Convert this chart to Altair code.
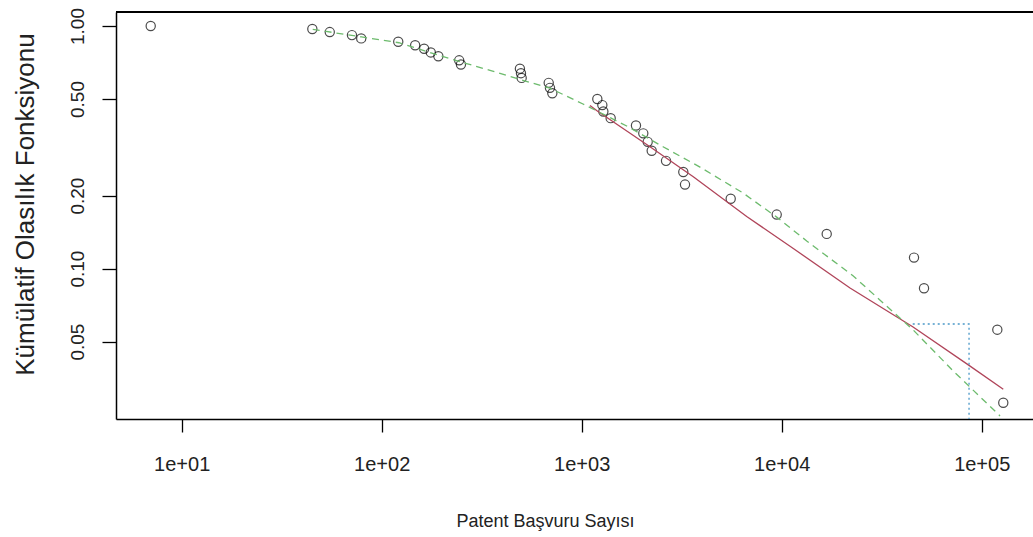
import altair as alt
import pandas as pd

# Empirical complementary CDF of patent application counts
patent_counts = [7, 45, 55, 71, 79, 121, 147, 163, 176, 192, 244, 249,
                 491, 497, 501, 684, 694, 713, 1197, 1268, 1283, 1396,
                 1868, 2032, 2138, 2239, 2640, 3221, 3285, 5559, 9441,
                 16790, 45870, 51470, 119700, 128200]
ccdf = [1.000, 0.972, 0.944, 0.917, 0.889, 0.861, 0.833, 0.806, 0.778,
        0.750, 0.722, 0.694, 0.667, 0.639, 0.611, 0.583, 0.556, 0.528,
        0.500, 0.472, 0.444, 0.417, 0.389, 0.361, 0.333, 0.306, 0.278,
        0.250, 0.222, 0.194, 0.167, 0.139, 0.111, 0.083, 0.056, 0.028]

# Power-law fit (solid red)
pl_x = [1100, 1197, 2195, 3614, 6683, 11430, 21960, 45190, 85700, 128200]
pl_y = [0.470, 0.446, 0.318, 0.239, 0.164, 0.121, 0.0832, 0.0576, 0.0401, 0.0318]

# Log-normal fit (dashed green)
ln_x = [45.2, 79.4, 122, 191, 246, 348, 491, 694, 1015, 1679, 2550, 3904,
        6405, 9441, 13340, 22800, 45500, 72100, 123500]
ln_y = [0.969, 0.901, 0.853, 0.759, 0.713, 0.656, 0.602, 0.554, 0.477,
        0.387, 0.318, 0.262, 0.205, 0.163, 0.130, 0.0932, 0.0558, 0.0378,
        0.0247]

# Dotted marker of the crossing region
box_x = [45190, 86430, 86430]
box_y = [0.0591, 0.0591, 0.02399]

x_ticks = [10, 100, 1000, 10000, 100000]
x_tick_labels = ["1e+01", "1e+02", "1e+03", "1e+04", "1e+05"]
y_ticks = [0.05, 0.10, 0.20, 0.50, 1.00]

X_DOMAIN = [4.694, 180500]
Y_DOMAIN = [0.02399, 1.142]
W, H = 917, 407
FONT = "Liberation Sans"

label_expr = " : ".join(
    f"datum.value == {v} ? '{t}'" for v, t in zip(x_ticks, x_tick_labels)
) + " : ''"

xscale = alt.Scale(type="log", domain=X_DOMAIN, nice=False)
yscale = alt.Scale(type="log", domain=Y_DOMAIN, nice=False)

x_axis = alt.Axis(values=x_ticks, labelExpr=label_expr, grid=False,
                  title="Patent Başvuru Sayısı", tickSize=13, tickColor="#000",
                  tickWidth=1.3, domainColor="#000", domainWidth=1.5,
                  labelFontSize=20, labelColor="#222", labelFont=FONT,
                  labelPadding=22, labelFlush=False, labelBaseline="top",
                  titleFontSize=18, titleFont=FONT, titleColor="#222",
                  titleFontWeight="normal", titleX=429, titleY=102,
                  titleAlign="center", titleBaseline="middle")
y_axis = alt.Axis(values=y_ticks, format=".2f", grid=False,
                  title="Kümülatif Olasılık Fonksiyonu", tickSize=14,
                  tickColor="#000", tickWidth=1.3, domainColor="#000",
                  domainWidth=1.5, labelFontSize=19, labelColor="#222",
                  labelFont=FONT, labelAngle=270, labelAlign="center",
                  labelBaseline="bottom", labelPadding=15, labelFlush=False,
                  titleFontSize=26, titleFont=FONT, titleColor="#222",
                  titleFontWeight="normal", titleAngle=270, titleX=-91,
                  titleY=192, titleAlign="center", titleBaseline="middle")

pts_df = pd.DataFrame({"x": patent_counts, "y": ccdf})
pl_df = pd.DataFrame({"x": pl_x, "y": pl_y, "o": list(range(len(pl_x)))})
ln_df = pd.DataFrame({"x": ln_x, "y": ln_y, "o": list(range(len(ln_x)))})
box_df = pd.DataFrame({"x": box_x, "y": box_y, "o": list(range(len(box_x)))})

points = alt.Chart(pts_df).mark_point(
    shape="circle", filled=False, color="#000", size=85, strokeWidth=1.2
).encode(
    x=alt.X("x:Q", scale=xscale, axis=x_axis),
    y=alt.Y("y:Q", scale=yscale, axis=y_axis),
)

power_line = alt.Chart(pl_df).mark_line(
    color="#b0455a", strokeWidth=1.3
).encode(x=alt.X("x:Q", scale=xscale), y=alt.Y("y:Q", scale=yscale),
         order="o:Q")

lognorm_line = alt.Chart(ln_df).mark_line(
    color="#6dbb6d", strokeWidth=1.3, strokeDash=[7, 5]
).encode(x=alt.X("x:Q", scale=xscale), y=alt.Y("y:Q", scale=yscale),
         order="o:Q")

box_line = alt.Chart(box_df).mark_line(
    color="#4a98c8", strokeWidth=1.3, strokeDash=[2, 3]
).encode(x=alt.X("x:Q", scale=xscale), y=alt.Y("y:Q", scale=yscale),
         order="o:Q")

top_border = alt.Chart(pts_df).mark_rule(color="#000", strokeWidth=1.5).encode(
    x=alt.value(0), x2=alt.value(W), y=alt.value(0)
)

chart = alt.layer(points, power_line, lognorm_line, box_line, top_border).properties(
    width=W, height=H,
    autosize=alt.AutoSizeParams(type="none"),
    padding={"left": 116, "top": 12, "right": 0, "bottom": 118},
    background="white",
).configure_view(stroke=None)

chart.save("out.html", embed_options={"renderer": "svg", "actions": False})
